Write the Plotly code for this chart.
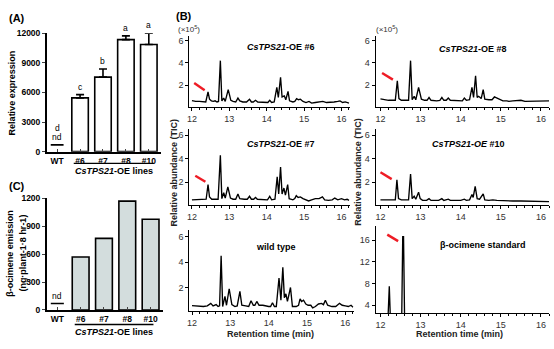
import plotly.graph_objects as go

W, H = 554, 349
def fx(p): return p / W
def fy(p): return 1 - p / H

FONT = "Arial, Liberation Sans, sans-serif"

# ---------------- Panel A / C data ----------------
lines = ["WT", "#6", "#7", "#8", "#10"]
expr_vals = [0, 5450, 7550, 11350, 10850]
expr_err = [0, 330, 820, 380, 1150]
expr_letters = ["d", "c", "b", "a", "a"]
wt_nd_expr = 690

emis_vals = [0, 570, 770, 1170, 975]
wt_nd_emis = 70

# ---------------- Panel B chromatograms (time min, TIC x10^5) ----------------
oe6 = [(12.0,0.62),(12.1,0.55),(12.2,0.55),(12.3,0.5),(12.37,0.5),(12.43,1.4),(12.47,0.75),(12.52,0.6),
       (12.57,0.55),(12.62,0.6),(12.67,0.5),(12.71,0.55),(12.76,4.2),(12.8,0.6),(12.85,0.85),(12.89,0.55),
       (12.97,1.6),(13.0,1.2),(13.04,0.65),(13.1,0.55),(13.17,0.5),(13.23,0.85),(13.28,0.6),(13.36,0.5),
       (13.46,0.5),(13.54,0.75),(13.59,0.5),(13.64,0.5),(13.7,0.65),(13.76,0.5),(13.9,0.45),(14.03,0.45),
       (14.08,0.65),(14.13,0.45),(14.2,0.5),(14.27,1.8),(14.31,0.9),(14.37,2.7),(14.41,0.95),(14.47,1.05),
       (14.51,0.7),(14.57,1.45),(14.61,0.6),(14.7,0.5),(14.75,0.55),(14.8,0.8),(14.85,0.7),(14.9,0.75),
       (14.97,0.55),(15.05,0.45),(15.13,0.55),(15.2,0.4),(15.3,0.45),(15.4,0.5),(15.5,0.55),(15.6,0.45),
       (15.7,0.45),(15.8,0.5),(15.9,0.55),(15.96,0.6),(16.03,0.45),(16.1,0.5),(16.2,0.4)]
oe8 = [(12.0,0.78),(12.1,0.7),(12.2,0.65),(12.3,0.65),(12.37,0.65),(12.42,2.4),(12.46,0.8),(12.52,0.65),
       (12.6,0.65),(12.7,0.65),(12.75,4.2),(12.79,0.7),(12.84,1.0),(12.88,0.7),(12.95,1.8),(12.98,1.3),
       (13.02,0.75),(13.1,0.65),(13.16,0.65),(13.21,0.9),(13.26,0.65),(13.4,0.6),(13.48,0.65),(13.53,0.9),
       (13.58,0.65),(13.64,0.65),(13.69,0.85),(13.74,0.65),(13.9,0.6),(14.04,0.6),(14.09,0.85),(14.14,0.65),
       (14.22,0.7),(14.28,1.8),(14.32,0.9),(14.37,2.85),(14.41,0.9),(14.44,1.0),(14.47,0.95),(14.51,0.8),
       (14.56,1.6),(14.6,0.75),(14.7,0.7),(14.78,0.7),(14.84,0.95),(14.9,0.85),(14.97,0.75),(15.05,0.6),
       (15.15,0.6),(15.2,0.55),(15.3,0.6),(15.4,0.6),(15.5,0.65),(15.6,0.55),(15.7,0.55),(15.8,0.6),
       (15.9,0.55),(16.0,0.6),(16.1,0.55),(16.2,0.6)]
oe7 = [(12.0,0.5),(12.1,0.5),(12.2,0.5),(12.3,0.5),(12.38,0.55),(12.43,1.8),(12.47,0.75),(12.53,0.55),
       (12.6,0.55),(12.7,0.55),(12.76,4.3),(12.8,0.6),(12.85,1.1),(12.89,0.65),(12.96,1.6),(12.99,1.25),
       (13.03,0.65),(13.1,0.55),(13.17,0.55),(13.23,1.0),(13.28,0.6),(13.4,0.55),(13.48,0.55),(13.54,0.8),
       (13.59,0.55),(13.65,0.55),(13.7,0.7),(13.75,0.55),(13.9,0.5),(14.02,0.5),(14.08,0.8),(14.13,0.5),
       (14.22,0.55),(14.28,2.45),(14.32,1.0),(14.37,3.3),(14.41,1.0),(14.46,1.5),(14.5,0.9),(14.56,1.8),
       (14.6,0.6),(14.7,0.5),(14.75,0.6),(14.79,0.85),(14.84,0.7),(14.9,0.75),(14.97,0.6),(15.05,0.5),
       (15.12,0.4),(15.2,0.5),(15.3,0.6),(15.4,0.6),(15.49,0.75),(15.55,0.5),(15.65,0.45),(15.75,0.5),
       (15.82,0.65),(15.9,0.5),(16.0,0.6),(16.08,0.5),(16.15,0.55),(16.2,0.45)]
oe10 = [(12.0,0.5),(12.1,0.5),(12.2,0.45),(12.3,0.45),(12.37,0.5),(12.41,2.2),(12.45,0.6),(12.52,0.5),
        (12.6,0.5),(12.7,0.5),(12.75,2.7),(12.79,0.6),(12.84,0.8),(12.88,0.55),(12.95,1.15),(12.99,0.6),
        (13.05,0.45),(13.15,0.45),(13.21,0.6),(13.26,0.45),(13.45,0.45),(13.53,0.6),(13.58,0.45),(13.69,0.55),
        (13.74,0.45),(14.0,0.45),(14.09,0.55),(14.14,0.45),(14.22,0.5),(14.28,0.95),(14.31,0.7),(14.36,1.65),
        (14.41,0.6),(14.47,0.55),(14.56,1.0),(14.6,0.5),(14.7,0.45),(14.8,0.5),(14.9,0.45),(15.1,0.4),
        (15.15,0.45),(15.3,0.4),(15.5,0.4),(15.7,0.38),(15.9,0.38),(16.1,0.35),(16.2,0.35)]
wild = [(12.0,0.57),(12.1,0.55),(12.2,0.5),(12.3,0.5),(12.4,0.55),(12.49,0.75),(12.55,0.55),(12.63,0.65),
        (12.68,0.5),(12.72,0.55),(12.76,4.5),(12.8,0.5),(12.86,1.3),(12.9,0.6),(12.97,1.9),(13.0,1.3),
        (13.04,0.65),(13.12,0.5),(13.18,0.55),(13.25,1.7),(13.3,0.6),(13.4,0.55),(13.48,0.5),(13.54,0.95),
        (13.6,0.6),(13.64,0.6),(13.69,0.9),(13.75,0.6),(13.85,0.6),(14.0,0.5),(14.05,0.5),(14.1,0.8),
        (14.15,0.5),(14.2,0.5),(14.27,2.75),(14.32,1.0),(14.37,3.6),(14.41,1.2),(14.45,1.5),(14.49,0.9),
        (14.57,2.0),(14.62,0.5),(14.72,0.5),(14.78,0.6),(14.82,1.1),(14.86,0.9),(14.91,1.0),(14.97,0.7),
        (15.03,0.6),(15.1,0.6),(15.15,0.4),(15.22,0.5),(15.3,0.7),(15.38,0.75),(15.43,0.65),(15.48,1.0),
        (15.54,0.6),(15.65,0.5),(15.75,0.5),(15.85,0.75),(15.92,0.6),(16.0,0.55),(16.08,0.5),(16.15,0.6),
        (16.2,0.45)]
standard = [(12.0,2.0),(12.19,2.0),(12.22,7.5),(12.245,2.0),(12.53,2.0),(12.555,16.6),(12.575,16.6),
            (12.6,2.0),(16.2,2.0)]

# red arrow marks (start, end) for the beta-ocimene peak
arrow_oe6 = [(12.06, 2.2), (12.34, 1.55)]
arrow_oe8 = [(12.04, 3.1), (12.31, 2.5)]
arrow_oe7 = [(12.09, 2.55), (12.36, 2.03)]
arrow_oe10 = [(12.0, 2.84), (12.28, 2.26)]
arrow_std = [(12.17, 17.0), (12.44, 15.8)]

fig = go.Figure()

# ---------------- Panel A ----------------
xpos = list(range(len(lines)))
fig.add_trace(go.Bar(x=xpos[1:], y=expr_vals[1:], width=0.72,
                     marker=dict(color="white", line=dict(color="black", width=1.6)),
                     error_y=dict(type="data", symmetric=False, array=expr_err[1:],
                                  arrayminus=[0]*4, color="black", thickness=1.6, width=4),
                     xaxis="x", yaxis="y", showlegend=False))
fig.add_trace(go.Scatter(x=[xpos[0]-0.28, xpos[0]+0.28], y=[wt_nd_expr]*2, mode="lines",
                         line=dict(color="black", width=1.6), xaxis="x", yaxis="y", showlegend=False))

# ---------------- Panel C ----------------
fig.add_trace(go.Bar(x=xpos[1:], y=emis_vals[1:], width=0.72,
                     marker=dict(color="#d3dddd", line=dict(color="black", width=1.6)),
                     xaxis="x2", yaxis="y2", showlegend=False))
fig.add_trace(go.Scatter(x=[xpos[0]-0.28, xpos[0]+0.28], y=[wt_nd_emis]*2, mode="lines",
                         line=dict(color="black", width=1.6), xaxis="x2", yaxis="y2", showlegend=False))

# ---------------- Panel B ----------------
chroms = [(oe6, arrow_oe6, 3), (oe8, arrow_oe8, 4), (oe7, arrow_oe7, 5),
          (oe10, arrow_oe10, 6), (wild, None, 7), (standard, arrow_std, 8)]
for data, arr, k in chroms:
    fig.add_trace(go.Scatter(x=[p[0] for p in data], y=[p[1] for p in data], mode="lines",
                             line=dict(color="black", width=1.35), xaxis=f"x{k}", yaxis=f"y{k}",
                             showlegend=False))
    if arr:
        fig.add_trace(go.Scatter(x=[p[0] for p in arr], y=[p[1] for p in arr], mode="lines",
                                 line=dict(color="#ee1c25", width=2.4), xaxis=f"x{k}", yaxis=f"y{k}",
                                 showlegend=False))

tickfontAC = dict(family=FONT, size=8.5, color="black")
axAC = dict(showline=True, linecolor="black", linewidth=1.6, showgrid=False, zeroline=False)

layout = dict(width=W, height=H, margin=dict(l=0, r=0, t=0, b=0),
              paper_bgcolor="white", plot_bgcolor="white", font=dict(family=FONT, color="black"))

layout["xaxis"] = dict(domain=[fx(45), fx(160)], range=[-0.45, 4.55], anchor="y",
                       tickmode="array", tickvals=xpos, ticktext=[f"<b>{l}</b>" for l in lines],
                       ticks="inside", ticklen=3, tickwidth=1.2, tickfont=tickfontAC, **axAC)
layout["yaxis"] = dict(domain=[fy(151), fy(29)], range=[0, 12000], anchor="x",
                       tickmode="array", tickvals=[0, 3000, 6000, 9000, 12000],
                       ticktext=[f"<b>{v}</b>" for v in [0, 3000, 6000, 9000, 12000]],
                       ticks="outside", ticklen=3, tickwidth=1.2, tickfont=tickfontAC, **axAC)
layout["xaxis2"] = dict(domain=[fx(45), fx(162)], range=[-0.45, 4.55], anchor="y2",
                        tickmode="array", tickvals=xpos, ticktext=[f"<b>{l}</b>" for l in lines],
                        ticks="inside", ticklen=3, tickwidth=1.2, tickfont=tickfontAC, **axAC)
layout["yaxis2"] = dict(domain=[fy(314), fy(199)], range=[0, 1200], anchor="x2",
                        tickmode="array", tickvals=[0, 300, 600, 900, 1200],
                        ticktext=[f"<b>{v}</b>" for v in [0, 300, 600, 900, 1200]],
                        ticks="outside", ticklen=3, tickwidth=1.2, tickfont=tickfontAC, **axAC)

tickfontB = dict(family=FONT, size=9, color="#333")
axB = dict(showline=True, linecolor="black", linewidth=1, showgrid=False, zeroline=False,
           ticks="outside", ticklen=3, tickwidth=1, tickcolor="black", tickfont=tickfontB)
xcols = {"L": [188, 349], "L3": [188, 353], "R": [375, 549]}
xr = {"L": [11.93, 16.22], "L3": [11.93, 16.22], "R": [11.88, 16.2]}
rows = {1: [105, 32], 2: [206, 128], 3: [315, 232], "3R": [317, 228]}
spec = {3: ("L", 1, [0.05, 6.4], [2, 4, 6]), 4: ("R", 1, [0.05, 6.4], [2, 4, 6]),
        5: ("L", 2, [0.05, 6.5], [2, 4, 6]), 6: ("R", 2, [0.05, 6.5], [2, 4, 6]),
        7: ("L3", 3, [0.15, 6.5], [2, 4, 6]), 8: ("R", "3R", [2.6, 18.5], [4, 8, 12, 16])}
for k, (col, row, yr, yt) in spec.items():
    layout[f"xaxis{k}"] = dict(domain=[fx(xcols[col][0]), fx(xcols[col][1])], range=xr[col],
                               anchor=f"y{k}", tick0=12, dtick=1,
                               minor=dict(ticks="outside", ticklen=2, dtick=0.2, tick0=12,
                                          tickcolor="black"), **axB)
    layout[f"yaxis{k}"] = dict(domain=[fy(rows[row][0]), fy(rows[row][1])], range=yr,
                               anchor=f"x{k}", tickmode="array", tickvals=yt, **axB)

ann = []
def add_text(x, y, text, size=9, color="black", angle=0, xanchor="center", yanchor="middle"):
    ann.append(dict(x=fx(x), y=fy(y), xref="paper", yref="paper", text=text, showarrow=False,
                    font=dict(family=FONT, size=size, color=color), textangle=angle,
                    xanchor=xanchor, yanchor=yanchor))

# panel labels
add_text(15, 13, "<b>(A)</b>", size=11)
add_text(15, 186, "<b>(C)</b>", size=11)
add_text(183, 11, "<b>(B)</b>", size=11)

# Panel A labels
add_text(10, 90, "<b>Relative expression</b>", size=9, angle=-90)
add_text(112, 171, "<b><i>CsTPS21</i>-OE lines</b>", size=9)
letter_font = dict(family=FONT, size=8.5, color="black")
for i, letter in enumerate(expr_letters):
    if i == 0:
        ann.append(dict(x=xpos[0], y=wt_nd_expr, xref="x", yref="y", text="nd", showarrow=False,
                        yshift=8, font=letter_font, yanchor="middle"))
        ann.append(dict(x=xpos[0], y=wt_nd_expr, xref="x", yref="y", text=letter, showarrow=False,
                        yshift=17, font=letter_font, yanchor="middle"))
    else:
        ann.append(dict(x=xpos[i], y=expr_vals[i] + expr_err[i], xref="x", yref="y", text=letter,
                        showarrow=False, yshift=8, font=letter_font, yanchor="middle"))

# Panel C labels
add_text(8, 255, "<b>β-ocimene emission</b>", size=9, angle=-90)
add_text(21, 255, "<b>(ng·plant-1·8 hr-1)</b>", size=9, angle=-90)
add_text(112, 337, "<b><i>CsTPS21</i>-OE lines</b>", size=9)
ann.append(dict(x=xpos[0], y=wt_nd_emis, xref="x2", yref="y2", text="nd", showarrow=False,
                yshift=7, font=letter_font, yanchor="middle"))

# Panel B labels
add_text(188, 25, "(×10<sup>5</sup>)", size=8, color="#333")
add_text(386, 25, "(×10<sup>5</sup>)", size=8, color="#333")
add_text(280, 43, "<b><i>CsTPS21</i>-OE #6</b>", size=9)
add_text(473, 45, "<b><i>CsTPS21</i>-OE #8</b>", size=9)
add_text(280, 143, "<b><i>CsTPS21</i>-OE #7</b>", size=9)
add_text(468, 143, "<b><i>CsTPS21-OE</i> #10</b>", size=9)
add_text(275, 249, "<b>wild type</b>", size=9)
add_text(483, 247, "<b>β-ocimene standard</b>", size=9)
add_text(173, 172, "<b>Relative abundance (TIC)</b>", size=9, color="#222", angle=-90)
add_text(357, 172, "<b>Relative abundance (TIC)</b>", size=9, color="#222", angle=-90)
add_text(269, 339, "<b>Retention time (min)</b>", size=9, color="#222")
add_text(459, 339, "<b>Retention time (min)</b>", size=9, color="#222")

layout["annotations"] = ann
layout["shapes"] = [
    dict(type="line", xref="paper", yref="paper", x0=fx(72), x1=fx(152), y0=fy(163), y1=fy(163),
         line=dict(color="black", width=1.4)),
    dict(type="line", xref="paper", yref="paper", x0=fx(73), x1=fx(152), y0=fy(329), y1=fy(329),
         line=dict(color="black", width=1.4)),
]
fig.update_layout(**layout)
fig.write_html("out.html")
